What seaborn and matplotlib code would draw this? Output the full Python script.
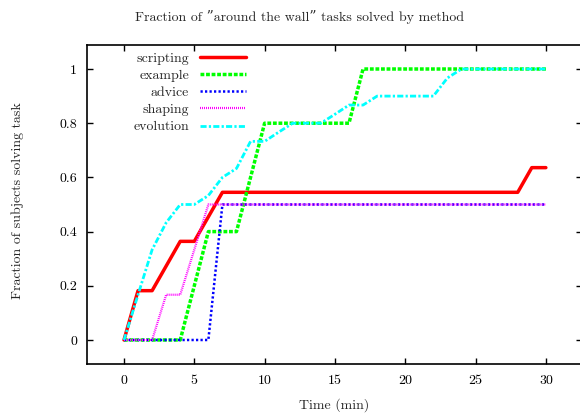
import matplotlib
matplotlib.use("Agg")
import matplotlib.pyplot as plt
import seaborn as sns
import pandas as pd

# ---- data ----
scripting_t = [0, 1, 2, 4, 5, 7, 28, 29, 30]
scripting_y = [0, 0.182, 0.182, 0.364, 0.364, 0.545, 0.545, 0.636, 0.636]

example_t = [0, 4, 6, 8, 10, 16, 17, 30]
example_y = [0, 0, 0.4, 0.4, 0.8, 0.8, 1.0, 1.0]

advice_t = [0, 6, 7, 30]
advice_y = [0, 0, 0.5, 0.5]

shaping_t = [0, 2, 3, 4, 6, 30]
shaping_y = [0, 0, 0.167, 0.167, 0.5, 0.5]

evolution_t = [0, 1, 2, 3, 4, 5, 6, 7, 8, 9, 10, 11, 12, 13, 14, 15, 16, 17, 18, 22, 23, 24, 30]
evolution_y = [0, 0.167, 0.333, 0.433, 0.5, 0.5, 0.533, 0.6, 0.633, 0.733, 0.733, 0.767,
               0.8, 0.8, 0.8, 0.833, 0.867, 0.867, 0.9, 0.9, 0.967, 1.0, 1.0]

x_ticks = [0, 5, 10, 15, 20, 25, 30]
y_ticks = [0, 0.2, 0.4, 0.6, 0.8, 1.0]
y_tick_labels = ["0", "0.2", "0.4", "0.6", "0.8", "1"]

title = 'Fraction of \u201daround the wall\u201d tasks solved by method'
x_label = "Time (min)"
y_label = "Fraction of subjects solving task"

series = [
    ("scripting", scripting_t, scripting_y, "#ff0000", 2.5, "-"),
    ("example", example_t, example_y, "#00ff00", 2.5, (0, (1.1, 0.5))),
    ("advice", advice_t, advice_y, "#0000ff", 1.8, (0, (0.9, 0.9))),
    ("shaping", shaping_t, shaping_y, "#ff00ff", 1.6, (0, (0.45, 0.45))),
    ("evolution", evolution_t, evolution_y, "#00ffff", 2.0, (0, (2.2, 0.8, 0.8, 0.8))),
]

sns.set_style("ticks")
plt.rcParams["font.family"] = ["cmr10", "DejaVu Serif"]
plt.rcParams["axes.formatter.use_mathtext"] = True
plt.rcParams["mathtext.fontset"] = "cm"

W, H = 580, 413
fig = plt.figure(figsize=(W / 100, H / 100), dpi=100)
L, R, T, B = 87, 582, 44.7, 364
ax = fig.add_axes([L / W, 1 - B / H, (R - L) / W, (B - T) / H])

fs = 10
for name, t, y, color, lw, ls in series:
    df = pd.DataFrame({"t": t, "y": y})
    sns.lineplot(data=df, x="t", y="y", ax=ax, color=color, lw=lw,
                 linestyle=ls, label=name, estimator=None, sort=False)

ax.set_xlim(-2.63, 32.57)
ax.set_ylim(-0.0886, 1.0897)
ax.set_xticks(x_ticks)
ax.set_xticklabels([str(v) for v in x_ticks])
ax.set_yticks(y_ticks)
ax.set_yticklabels(y_tick_labels)
ax.tick_params(direction="in", length=4, width=1, top=True, right=True,
               labelsize=fs, colors="black")
ax.tick_params(axis="x", pad=8)
ax.tick_params(axis="y", pad=7)
for s in ax.spines.values():
    s.set_linewidth(1.2)
    s.set_color("black")

ax.set_xlabel("")
ax.set_ylabel("")
fig.text(334 / W, 1 - 405 / H, x_label, ha="center", va="center", fontsize=fs)
fig.text(18 / W, 1 - 201 / H, y_label, ha="center", va="center", rotation=90, fontsize=fs)
fig.text(300 / W, 1 - 17 / H, title, ha="center", va="center", fontsize=fs)

ax.legend(loc="upper right", bbox_to_anchor=(246 / W, 1 - 52 / H),
          bbox_transform=fig.transFigure, frameon=False, markerfirst=False,
          fontsize=fs, handlelength=3.3, handletextpad=0.8, labelspacing=0.32,
          borderpad=0, borderaxespad=0)

fig.savefig("out.png", dpi=100)
